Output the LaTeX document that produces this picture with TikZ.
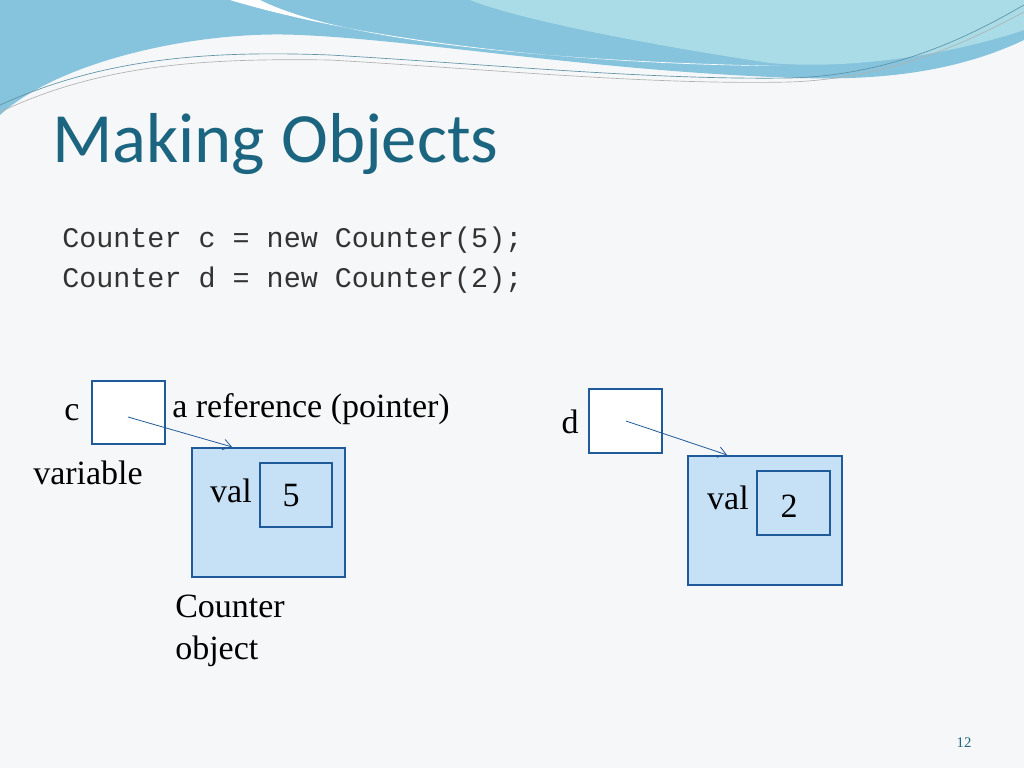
\documentclass[tikz,border=0pt]{standalone}
\usepackage{fontspec}
\setmainfont{Liberation Serif}
\newfontfamily\titlefont{Carlito}
\newfontfamily\codefont{Liberation Mono}
\usetikzlibrary{arrows.meta}
\definecolor{bg}{HTML}{F6F7F8}
\definecolor{wblue}{HTML}{86C3DC}
\definecolor{wcyan}{HTML}{A9DCE6}
\definecolor{teal}{HTML}{1B6580}
\definecolor{bord}{HTML}{1F5A9A}
\definecolor{objfill}{HTML}{C6E0F6}
\definecolor{codecol}{HTML}{333333}
\tikzset{
  varbox/.style={draw=bord,line width=1.6pt,fill=white},
  objbox/.style={draw=bord,line width=1.6pt,fill=objfill},
  lbl/.style={font=\fontsize{25.5}{30}\selectfont,inner sep=0pt},
  code/.style={font=\codefont\fontsize{21.3}{24}\selectfont,text=codecol,anchor=base west,inner sep=0pt},
  ptr/.style={draw=bord,line width=0.6pt,-{Straight Barb[length=6pt,width=8pt]}}
}
\begin{document}
\begin{tikzpicture}[x=0.75pt,y=-0.75pt]
\fill[bg] (0,0) rectangle (1024,768);
\useasboundingbox (0,0) rectangle (1024,768);
% waves
\fill[wblue] (0,0) -- (1024,0) -- (1024,40) .. controls (950,75) and (870,80) .. (800,78)
  .. controls (600,72) and (420,40) .. (300,35) .. controls (200,30) and (60,60) .. (0,115) -- cycle;
\fill[wcyan] (470,0) -- (1024,0) -- (1024,30) .. controls (950,55) and (850,70) .. (770,63)
  .. controls (650,45) and (520,20) .. (470,0) -- cycle;
\fill[white] (230,0) -- (260,0) .. controls (330,35) and (500,60) .. (780,66)
  .. controls (600,65) and (380,45) .. (230,0) -- cycle;
\draw[teal!70,line width=0.5pt] (0,105) .. controls (100,60) and (200,50) .. (330,55) .. controls (500,65) and (650,80) .. (790,78) .. controls (900,75) and (980,30) .. (1024,5);
\draw[gray!60,line width=0.5pt] (0,112) .. controls (100,65) and (200,58) .. (330,60) .. controls (500,70) and (650,85) .. (790,82) .. controls (900,78) and (980,35) .. (1024,12);
% title
\node[anchor=base west,inner sep=0pt,text=teal,font=\titlefont\fontsize{53}{58}\selectfont] (title) at (52,162) {Making Objects};
\node[code] (l1) at (62,247) {Counter c = new Counter(5);};
\node[code] (l2) at (62,287) {Counter d = new Counter(2);};
% c
\node[varbox,minimum width=54.75pt,minimum height=47.25pt,inner sep=0pt] (cv) at (128.5,412.5) {};
\node[lbl] (cl) at (72,413) {c};
\node[lbl,anchor=west] (ref) at (172,409) {a reference (pointer)};
\node[lbl] (var) at (88,473) {variable};
\node[objbox,minimum width=114.75pt,minimum height=96.75pt,inner sep=0pt] (co) at (268.5,512.5) {};
\node[objbox,minimum width=54pt,minimum height=48pt,inner sep=0pt] (cin) at (296,495) {};
\node[lbl] (cval) at (231,491) {val};
\node[lbl] (c5) at (291,496) {5};
\node[lbl,anchor=north west,align=left,font=\fontsize{25.5}{31}\selectfont] (cobj) at (175,595) {Counter\\object};
\coordinate (cs) at (128,417);
\draw[ptr] (cs) -- (co.north -| 232,0);
% d
\node[varbox,minimum width=54.75pt,minimum height=48pt,inner sep=0pt] (dv) at (625.5,421) {};
\node[lbl] (dl) at (570,422) {d};
\node[objbox,minimum width=115.5pt,minimum height=96.75pt,inner sep=0pt] (do) at (765,520.5) {};
\node[objbox,minimum width=54.75pt,minimum height=48pt,inner sep=0pt] (din) at (793.5,503) {};
\node[lbl] (dval) at (728,498) {val};
\node[lbl] (d2) at (789,506) {2};
\coordinate (ds) at (626,421);
\draw[ptr] (ds) -- (do.north -| 727,0);
\node[text=teal,font=\fontsize{11}{12}\selectfont] (pg) at (964,743) {12};
\end{tikzpicture}
\end{document}
